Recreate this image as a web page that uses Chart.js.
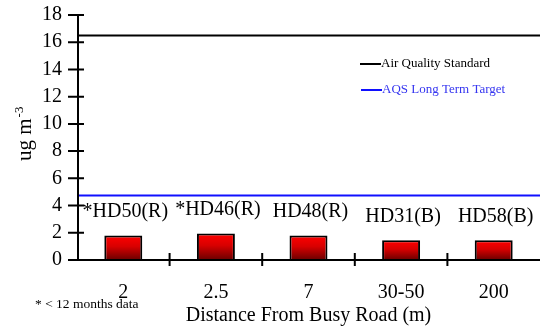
<!DOCTYPE html>
<html>
<head>
<meta charset="utf-8">
<script src="https://cdn.jsdelivr.net/npm/chart.js@4"></script>
<style>
  html, body { margin: 0; padding: 0; background: #ffffff; }
  #wrap { width: 543px; height: 329px; }
</style>
</head>
<body>
<div id="wrap"><canvas id="c" width="543" height="329"></canvas></div>
<script>
// Distance categories along the x axis
const distances = ['2', '2.5', '7', '30-50', '200'];
// Site names written above each bar
const siteLabels = ['*HD50(R)', '*HD46(R)', 'HD48(R)', 'HD31(B)', 'HD58(B)'];
// Measured concentrations (ug m-3)
const concentrations = [1.8, 1.95, 1.8, 1.45, 1.45];
// Reference levels drawn as horizontal lines
const airQualityStandard = 16.5;
const longTermTarget = 4.8;
// y axis range and step
const yMin = 0, yMax = 18, yStep = 2;

const SERIF = '"Liberation Serif", "Times New Roman", serif';

// Axes with ticks that cross the axis line
const axesPlugin = {
  id: 'crossAxes',
  afterDraw(chart) {
    const { ctx, chartArea: a, scales: { x, y } } = chart;
    ctx.save();
    ctx.strokeStyle = '#000';
    ctx.lineWidth = 2;
    ctx.beginPath();
    ctx.moveTo(a.left + 1, y.getPixelForValue(yMax));
    ctx.lineTo(a.left + 1, y.getPixelForValue(yMin) + 1);
    ctx.moveTo(a.left, y.getPixelForValue(yMin));
    ctx.lineTo(a.right, y.getPixelForValue(yMin));
    for (let v = yMin; v <= yMax; v += yStep) {
      const py = y.getPixelForValue(v);
      ctx.moveTo(a.left - 9, py);
      ctx.lineTo(a.left + 7, py);
    }
    for (let i = 1; i < distances.length; i++) {
      const px = (x.getPixelForValue(i - 1) + x.getPixelForValue(i)) / 2;
      const py = y.getPixelForValue(yMin);
      ctx.moveTo(px, py - 7);
      ctx.lineTo(px, py + 6);
    }
    ctx.stroke();
    ctx.restore();
  }
};

// Reference lines across the plot
const refLinesPlugin = {
  id: 'refLines',
  beforeDatasetsDraw(chart) {
    const { ctx, chartArea: a, scales: { y } } = chart;
    ctx.save();
    ctx.lineWidth = 2;
    [[airQualityStandard, '#000000'], [longTermTarget, '#1010ff']].forEach(([v, c]) => {
      const py = Math.round(y.getPixelForValue(v)) + 0.5;
      ctx.strokeStyle = c;
      ctx.beginPath();
      ctx.moveTo(a.left + 1, py);
      ctx.lineTo(a.right, py);
      ctx.stroke();
    });
    ctx.restore();
  }
};

// Site names above bars, legend, y title and footnote
const textPlugin = {
  id: 'texts',
  afterDatasetsDraw(chart) {
    const { ctx } = chart;
    const meta = chart.getDatasetMeta(0);
    ctx.save();
    ctx.fillStyle = '#000';
    ctx.font = '20px ' + SERIF;
    ctx.textAlign = 'center';
    ctx.textBaseline = 'middle';
    meta.data.forEach((bar, i) => {
      ctx.fillText(siteLabels[i], bar.x + 2, bar.y - 24);
    });

    // legend
    ctx.textAlign = 'left';
    ctx.font = '13px ' + SERIF;
    ctx.lineWidth = 2;
    ctx.strokeStyle = '#000';
    ctx.beginPath(); ctx.moveTo(360, 64); ctx.lineTo(381, 64); ctx.stroke();
    ctx.fillText('Air Quality Standard', 381, 64);
    ctx.strokeStyle = '#1010ff';
    ctx.beginPath(); ctx.moveTo(361, 90); ctx.lineTo(382, 90); ctx.stroke();
    ctx.fillStyle = '#3535f0';
    ctx.fillText('AQS Long Term Target', 382, 90);

    // footnote
    ctx.fillStyle = '#000';
    ctx.font = '13.5px ' + SERIF;
    ctx.fillText('* < 12 months data', 35, 304);

    // y axis title with superscript
    ctx.save();
    ctx.translate(31, 161);
    ctx.rotate(-Math.PI / 2);
    ctx.textBaseline = 'alphabetic';
    ctx.font = '21px ' + SERIF;
    ctx.fillText('ug m', 0, 0);
    const w = ctx.measureText('ug m').width;
    ctx.font = '13px ' + SERIF;
    ctx.fillText('-3', w + 1, -8);
    ctx.restore();

    ctx.restore();
  }
};

new Chart(document.getElementById('c'), {
  type: 'bar',
  data: {
    labels: distances,
    datasets: [{
      data: concentrations,
      backgroundColor(ctx) {
        const area = ctx.chart.chartArea;
        if (!area) return '#d00000';
        const y = ctx.chart.scales.y;
        const top = y.getPixelForValue(ctx.raw);
        const bottom = y.getPixelForValue(0);
        const g = ctx.chart.ctx.createLinearGradient(0, top, 0, bottom);
        g.addColorStop(0, '#ff0000');
        g.addColorStop(0.45, '#d80000');
        g.addColorStop(1, '#6a0000');
        return g;
      },
      borderColor: '#000',
      borderWidth: { top: 2, left: 2, right: 2, bottom: 0 },
      borderSkipped: false,
      categoryPercentage: 1,
      barPercentage: 0.41
    }]
  },
  options: {
    responsive: false,
    animation: false,
    devicePixelRatio: 1,
    layout: { padding: { top: 15, right: 3, left: 0, bottom: 0 } },
    plugins: { legend: { display: false }, tooltip: { enabled: false } },
    scales: {
      x: {
        type: 'category',
        offset: true,
        grid: { display: false, drawTicks: false },
        border: { display: false },
        ticks: { color: '#000', font: { family: SERIF, size: 20 }, padding: 21 },
        title: {
          display: true,
          text: 'Distance From Busy Road (m)',
          color: '#000',
          font: { family: SERIF, size: 20 },
          padding: { top: 0, bottom: 1 }
        },
        afterFit(s) { s.height = 69; s.paddingLeft = 0; s.paddingRight = 0; }
      },
      y: {
        min: yMin,
        max: yMax,
        grid: { display: false, drawTicks: false },
        border: { display: false },
        ticks: { stepSize: yStep, autoSkip: false, color: '#000', font: { family: SERIF, size: 20 }, padding: 15 },
        afterFit(s) { s.width = 77; s.paddingTop = 0; s.paddingBottom = 0; }
      }
    }
  },
  plugins: [refLinesPlugin, axesPlugin, textPlugin]
});
</script>
</body>
</html>
